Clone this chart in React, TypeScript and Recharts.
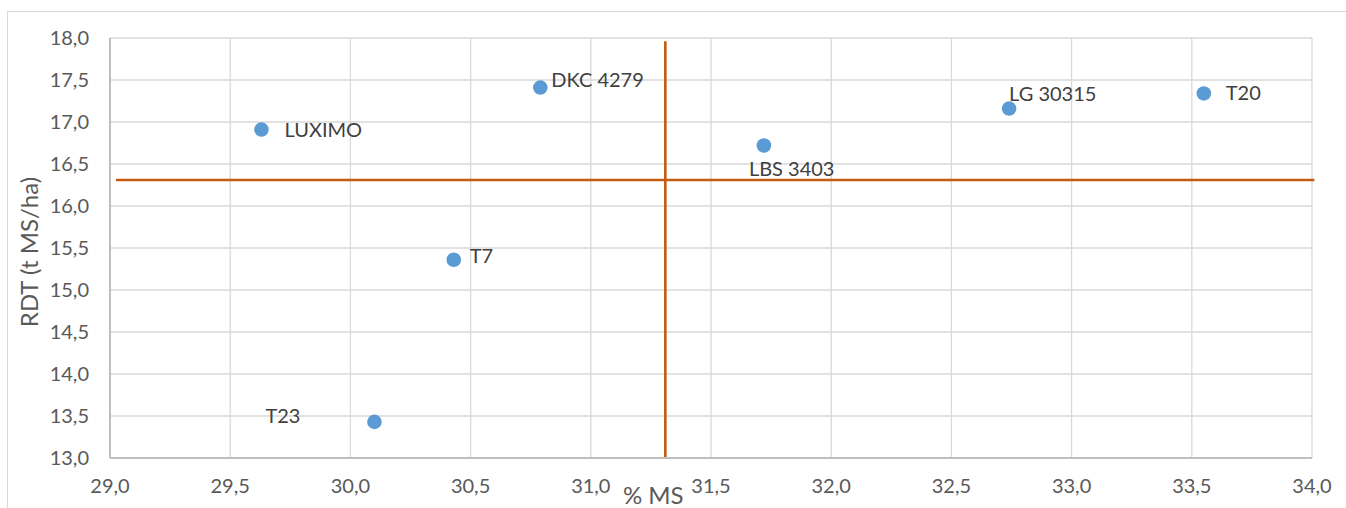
import React from "react";
import {
  CartesianGrid,
  Label,
  ReferenceLine,
  Scatter,
  ScatterChart,
  XAxis,
  YAxis,
} from "recharts";

// Hybrid names, dry matter content (% MS) and yield (t MS/ha).
const hybrids = ["LUXIMO", "DKC 4279", "LBS 3403", "LG 30315", "T20", "T7", "T23"];
const msPct = [29.63, 30.79, 31.72, 32.74, 33.55, 30.43, 30.1];
const rdt = [16.91, 17.41, 16.72, 17.16, 17.34, 15.36, 13.43];

// Quadrant lines (means of both axes)
const meanMs = 31.31;
const meanRdt = 16.31;

const xTicks = [29, 29.5, 30, 30.5, 31, 31.5, 32, 32.5, 33, 33.5, 34];
const yTicks = [13, 13.5, 14, 14.5, 15, 15.5, 16, 16.5, 17, 17.5, 18];

const points = hybrids.map((name, i) => ({ name, ms: msPct[i], rdt: rdt[i] }));

// Where each data label sits relative to its marker (Excel placed them by hand).
const labelPlacement: Record<string, { dx: number; dy: number; anchor: "start" | "end" }> = {
  LUXIMO: { dx: 23, dy: 7, anchor: "start" },
  "DKC 4279": { dx: 11, dy: -1, anchor: "start" },
  "LBS 3403": { dx: -15, dy: 30, anchor: "start" },
  "LG 30315": { dx: 0, dy: -8, anchor: "start" },
  T20: { dx: 22, dy: 7, anchor: "start" },
  T7: { dx: 16, dy: 3, anchor: "start" },
  T23: { dx: -74, dy: 1, anchor: "end" },
};

const FONT = "Lato, 'Open Sans', sans-serif";
const comma = (v: number) => v.toFixed(1).replace(".", ",");
const TICK = { fill: "#595959", fontSize: 20, fontFamily: FONT };

function Dot(props: any) {
  const { cx, cy, payload } = props;
  const p = labelPlacement[payload.name];
  return (
    <g>
      <circle cx={cx} cy={cy} r={7.3} fill="#5b9bd5" />
      <text
        x={cx + p.dx}
        y={cy + p.dy}
        textAnchor={p.anchor}
        fill="#404040"
        fontSize={20}
        fontFamily={FONT}
      >
        {payload.name}
      </text>
    </g>
  );
}

export default function App() {
  return (
    <div style={{ position: "absolute", left: 0, top: 0, width: 1346, height: 508, overflow: "hidden", background: "#fff" }}>
      <div
        style={{
          position: "absolute",
          left: 7,
          top: 11,
          width: 1400,
          height: 600,
          borderLeft: "1px solid #d9d9d9",
          borderTop: "1px solid #d9d9d9",
        }}
      />
      <ScatterChart
        width={1346}
        height={508}
        margin={{ top: 38, right: 34, left: 50, bottom: 10 }}
        style={{ position: "absolute", left: 0, top: 0 }}
      >
        <CartesianGrid stroke="#d9d9d9" strokeWidth={1.3} />
        <XAxis
          type="number"
          dataKey="ms"
          domain={[29, 34]}
          ticks={xTicks}
          tickFormatter={comma}
          tick={TICK}
          tickLine={false}
          tickSize={0}
          tickMargin={21}
          axisLine={{ stroke: "#bfbfbf", strokeWidth: 2 }}
          height={40}
          interval={0}
        >
          <Label
            content={(props: any) => {
              const vb = props.viewBox;
              return (
                <text
                  x={vb.x + vb.width * 0.452}
                  y={vb.y + 46}
                  textAnchor="middle"
                  fill="#595959"
                  fontSize={24}
                  fontFamily={FONT}
                >
                  % MS
                </text>
              );
            }}
          />
        </XAxis>
        <YAxis
          type="number"
          dataKey="rdt"
          domain={[13, 18]}
          ticks={yTicks}
          tickFormatter={comma}
          tick={TICK}
          tickLine={false}
          tickSize={0}
          tickMargin={21}
          axisLine={{ stroke: "#bfbfbf", strokeWidth: 2 }}
          width={60}
          interval={0}
        >
          <Label
            content={(props: any) => {
              const vb = props.viewBox;
              const cx = vb.x - 22;
              const cy = vb.y + vb.height / 2 + 4;
              return (
                <text
                  x={cx}
                  y={cy}
                  transform={`rotate(-90 ${cx} ${cy})`}
                  textAnchor="middle"
                  dominantBaseline="central"
                  fill="#595959"
                  fontSize={24}
                  fontFamily={FONT}
                >
                  RDT (t MS/ha)
                </text>
              );
            }}
          />
        </YAxis>
        <ReferenceLine
          segment={[
            { x: 29.025, y: meanRdt },
            { x: 34.01, y: meanRdt },
          ]}
          stroke="#c55a11"
          strokeWidth={2.6}
          ifOverflow="visible"
        />
        <ReferenceLine
          segment={[
            { x: meanMs, y: 17.96 },
            { x: meanMs, y: 13 },
          ]}
          stroke="#c55a11"
          strokeWidth={2.6}
          ifOverflow="visible"
        />
        <Scatter data={points} shape={Dot} isAnimationActive={false} />
      </ScatterChart>
    </div>
  );
}
